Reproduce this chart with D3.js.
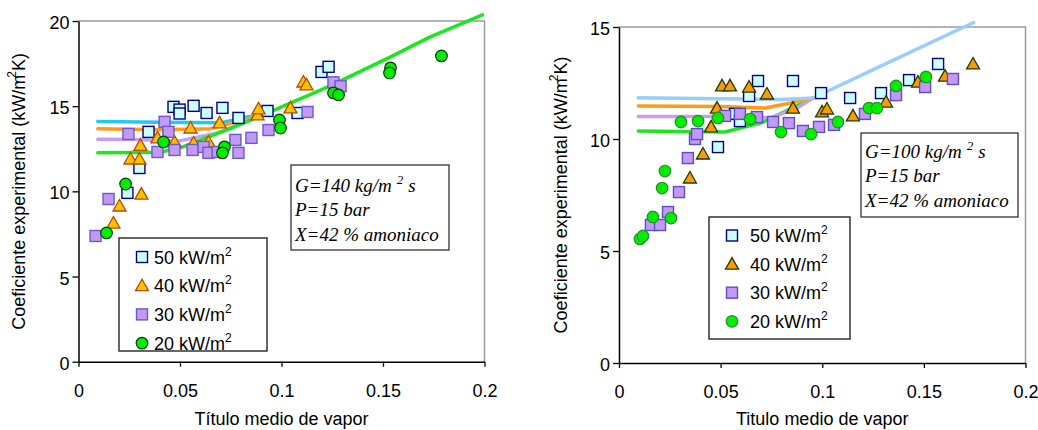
<!DOCTYPE html>
<html><head><meta charset="utf-8">
<script src="https://cdn.jsdelivr.net/npm/d3@7"></script>
<style>body{margin:0;background:#fff} svg{display:block}</style>
</head><body><svg id="c" width="1038" height="430"></svg>
<script>
// ---------- data ----------
const xTickValues = [0, 0.05, 0.1, 0.15, 0.2];
const xTickLabels = ["0", "0.05", "0.1", "0.15", "0.2"];
const yTicksG140 = [0, 5, 10, 15, 20];
const yTicksG100 = [0, 5, 10, 15];
const seriesLabels = ["50 kW/m", "40 kW/m", "30 kW/m", "20 kW/m"];
const yTitleText = "Coeficiente experimental (kW/m";
const xTitleG140 = "Título medio de vapor";
const xTitleG100 = "Titulo medio de vapor";
const notesG140 = ["G=140 kg/m", "P=15 bar", "X=42 % amoniaco"];
const notesG100 = ["G=100 kg/m", "P=15 bar", "X=42 % amoniaco"];

// G = 140 kg/m2s  (x = quality, y = coefficient kW/m2K)
const g140_q50 = [[0.0241,9.91],[0.0300,11.37],[0.0345,13.49],[0.0468,14.96],[0.0498,14.80],[0.0498,14.57],[0.0567,15.02],[0.0631,14.60],[0.0709,14.90],[0.0788,14.31],[0.0931,14.72],[0.1079,14.60],[0.1197,17.01],[0.1232,17.31]];
const g140_q40 = [[0.0172,8.14],[0.0202,9.14],[0.0256,11.90],[0.0300,11.90],[0.0305,12.70],[0.0310,9.84],[0.0389,13.14],[0.0473,12.90],[0.0552,13.72],[0.0567,12.84],[0.0640,12.90],[0.0695,14.02],[0.0882,14.49],[0.0887,14.84],[0.1044,14.90],[0.1108,16.42],[0.1123,16.25]];
const g140_q30 = [[0.0084,7.38],[0.0148,9.55],[0.0246,13.37],[0.0389,12.31],[0.0424,14.08],[0.0443,13.49],[0.0473,12.43],[0.0562,12.43],[0.0616,12.61],[0.0640,12.26],[0.0685,12.31],[0.0773,13.02],[0.0788,12.26],[0.0852,13.14],[0.0936,13.60],[0.1128,14.66],[0.1256,16.40],[0.1291,16.17]];
const g140_q20 = [[0.0138,7.56],[0.0232,10.43],[0.0419,12.90],[0.0719,12.61],[0.0709,12.26],[0.0990,14.19],[0.0995,13.72],[0.1256,15.78],[0.1281,15.66],[0.1537,17.25],[0.1532,16.95],[0.1788,17.95]];
const g140_fit50 = [[0.0095,14.10],[0.04,14.05],[0.07,14.02],[0.083,14.37],[0.091,14.49]];
const g140_fit40 = [[0.0095,13.68],[0.04,13.62],[0.065,13.68],[0.091,14.49]];
const g140_fit30 = [[0.0095,13.06],[0.03,13.05],[0.048,12.92],[0.068,13.41],[0.091,14.49]];
const g140_fit20 = [[0.0095,12.27],[0.04,12.30],[0.05,12.55],[0.075,13.70],[0.091,14.49],[0.124,16.19],[0.154,17.91],[0.173,19.05],[0.199,20.36]];

// G = 100 kg/m2s
const g100_q50 = [[0.0487,9.64],[0.0571,11.12],[0.0595,10.80],[0.0640,11.92],[0.0684,12.59],[0.0856,12.59],[0.0994,12.05],[0.1137,11.83],[0.1289,12.05],[0.1427,12.63],[0.1570,13.35]];
const g100_q40 = [[0.0349,8.26],[0.0413,9.33],[0.0453,10.54],[0.0482,11.38],[0.0507,12.37],[0.0546,12.37],[0.0640,12.32],[0.0728,12.01],[0.0856,11.38],[0.0999,11.21],[0.1023,11.34],[0.1151,11.03],[0.1314,11.65],[0.1471,12.54],[0.1604,12.81],[0.1742,13.35]];
const g100_q30 = [[0.0157,6.16],[0.0202,6.16],[0.0241,6.74],[0.0295,7.63],[0.0339,9.15],[0.0374,10.00],[0.0384,10.22],[0.0522,11.03],[0.0595,11.12],[0.0679,10.98],[0.0758,10.76],[0.0836,10.71],[0.0905,10.36],[0.0984,10.54],[0.1058,10.63],[0.1210,11.12],[0.1363,11.96],[0.1506,12.32],[0.1643,12.68]];
const g100_q20 = [[0.0103,5.54],[0.0118,5.67],[0.0167,6.52],[0.0256,6.47],[0.0212,7.81],[0.0226,8.57],[0.0305,10.76],[0.0389,10.80],[0.0487,10.94],[0.0645,10.89],[0.0797,10.31],[0.0945,10.22],[0.1077,10.76],[0.1230,11.38],[0.1269,11.38],[0.1363,12.37],[0.1510,12.77]];
const g100_fit50 = [[0.0095,11.84],[0.05,11.80],[0.08,11.76],[0.0955,11.83],[0.135,13.52],[0.1745,15.20]];
const g100_fit40 = [[0.0095,11.47],[0.05,11.45],[0.072,11.38],[0.085,11.62],[0.0955,11.83]];
const g100_fit30 = [[0.0095,11.00],[0.05,11.00],[0.075,10.95],[0.088,11.40],[0.0955,11.83]];
const g100_fit20 = [[0.0095,10.36],[0.052,10.31],[0.07,10.72],[0.0955,11.83]];

// ---------- drawing ----------
const svg = d3.select("#c");
const FONT = "'Liberation Sans', Arial, sans-serif";
const SERIF = "'Liberation Serif', 'Times New Roman', serif";

function marker(g, shape, x, y, fill, stroke) {
  if (shape === "square") {
    g.append("rect").attr("x", x - 5.5).attr("y", y - 5.5).attr("width", 11).attr("height", 11)
      .attr("fill", fill).attr("stroke", stroke).attr("stroke-width", 1.4);
  } else if (shape === "triangle") {
    g.append("path").attr("d", `M${x},${y-6.5}L${x+6.5},${y+5}L${x-6.5},${y+5}Z`)
      .attr("fill", fill).attr("stroke", stroke).attr("stroke-width", 1.3).attr("stroke-linejoin", "miter");
  } else {
    g.append("circle").attr("cx", x).attr("cy", y).attr("r", 5.8)
      .attr("fill", fill).attr("stroke", stroke).attr("stroke-width", 1.2);
  }
}

function panel(cfg) {
  const g = svg.append("g");
  const x = d3.scaleLinear().domain([0, 0.2]).range(cfg.xr);
  const y = d3.scaleLinear().domain([0, cfg.ymax]).range(cfg.yr);
  const [x0, x1] = cfg.xr, [y0, y1] = cfg.yr;

  // plot border (top/right gray)
  g.append("path").attr("d", `M${x0},${y1}H${x1}V${y0}`).attr("fill", "none")
    .attr("stroke", "#9a9a9a").attr("stroke-width", 1.5);

  // axes
  const xAxis = d3.axisBottom(x).tickValues(xTickValues).tickSize(5).tickSizeOuter(0)
    .tickFormat((d, i) => xTickLabels[i]);
  const yAxis = d3.axisLeft(y).tickValues(cfg.yticks).tickSize(6).tickSizeOuter(0).tickFormat(d3.format("d"));
  const gx = g.append("g").attr("transform", `translate(0,${y0})`).call(xAxis);
  const gy = g.append("g").attr("transform", `translate(${x0},0)`).call(yAxis);
  [gx, gy].forEach(a => {
    a.select(".domain").attr("stroke", "#000").attr("stroke-width", 1.5);
    a.selectAll(".tick line").attr("stroke", "#000").attr("stroke-width", 1.3);
    a.selectAll("text").attr("font-family", FONT).attr("font-size", 18).attr("fill", "#000");
  });
  gx.selectAll(".tick text").attr("y", 0).attr("dy", 0).attr("transform", `translate(0,35)`);
  gy.selectAll(".tick text").attr("x", -9).attr("dy", "0.42em");

  // fit lines
  const line = d3.line().x(d => x(d[0])).y(d => y(d[1]));
  cfg.fits.forEach(f => {
    g.append("path").attr("d", line(f.data)).attr("fill", "none")
      .attr("stroke", f.color).attr("stroke-width", 3.5).attr("stroke-linejoin", "round").attr("stroke-linecap", "round");
  });

  // points
  cfg.series.forEach(s => {
    s.data.forEach(d => marker(g, s.shape, x(d[0]), y(d[1]), s.fill, s.stroke));
  });

  // axis titles
  const yt = g.append("text").attr("transform", `translate(${cfg.yTitleX},${(y0 + y1) / 2}) rotate(-90)`)
    .attr("text-anchor", "middle").attr("dy", "0.35em")
    .attr("font-family", FONT).attr("font-size", 18).attr("fill", "#000");
  yt.append("tspan").text(yTitleText);
  yt.append("tspan").attr("font-size", 12).attr("dy", "-0.75em").attr("dx", -3).text("2");
  yt.append("tspan").attr("font-size", 18).attr("dy", "0.5em").text("K)");

  g.append("text").attr("x", (x0 + x1) / 2).attr("y", 425).attr("text-anchor", "middle")
    .attr("font-family", FONT).attr("font-size", 18).attr("fill", "#000").text(cfg.xTitle);

  // legend
  const L = cfg.legend;
  g.append("rect").attr("x", L.x).attr("y", L.y).attr("width", L.w).attr("height", L.h)
    .attr("fill", "#fff").attr("stroke", "#333").attr("stroke-width", 1.5);
  cfg.series.forEach((s, i) => {
    const cy = L.y + L.first + i * L.step;
    marker(g, s.shape, L.mx, cy, s.fill, s.stroke);
    const t = g.append("text").attr("x", L.tx).attr("y", cy + 6.5)
      .attr("font-family", FONT).attr("font-size", 18).attr("fill", "#000");
    t.append("tspan").text(seriesLabels[i]);
    t.append("tspan").attr("font-size", 12).attr("dy", -8).text("2");
  });

  // annotation box
  const N = cfg.note;
  g.append("rect").attr("x", N.x).attr("y", N.y).attr("width", N.w).attr("height", N.h)
    .attr("fill", "#fff").attr("stroke", "#222").attr("stroke-width", 1.2);
  cfg.notes.forEach((txt, i) => {
    const t = g.append("text").attr("x", N.x + 4).attr("y", N.y + N.first + i * 24.3)
      .attr("font-family", SERIF).attr("font-style", "italic").attr("font-size", 19).attr("fill", "#000");
    t.append("tspan").text(txt);
    if (i === 0) {
      t.append("tspan").attr("font-size", 13).attr("dx", 5).attr("dy", -8).text("2");
      t.append("tspan").attr("dx", 5).attr("dy", 8).text("s");
    }
  });
}

panel({
  xr: [78.5, 484.5], yr: [361.7, 21], ymax: 20, yticks: yTicksG140,
  xTitle: xTitleG140, yTitleX: 18.5,
  fits: [
    { data: g140_fit50, color: "#22c8f5" },
    { data: g140_fit40, color: "#ff9a1a" },
    { data: g140_fit30, color: "#c99cf5" },
    { data: g140_fit20, color: "#1ee61e" }
  ],
  series: [
    { data: g140_q50, shape: "square", fill: "#ccffff", stroke: "#000080" },
    { data: g140_q40, shape: "triangle", fill: "#ffc000", stroke: "#b34d00" },
    { data: g140_q30, shape: "square", fill: "#c399f5", stroke: "#6a5acd" },
    { data: g140_q20, shape: "circle", fill: "#00ee00", stroke: "#0a3d0a" }
  ],
  legend: { x: 119, y: 238, w: 148, h: 113, first: 19, step: 28.7, mx: 142, tx: 154 },
  note: { x: 291, y: 165, w: 158, h: 85, first: 27 },
  notes: notesG140
});

panel({
  xr: [619, 1025.5], yr: [363, 27], ymax: 15, yticks: yTicksG100,
  xTitle: xTitleG100, yTitleX: 561,
  fits: [
    { data: g100_fit20, color: "#1ee61e" },
    { data: g100_fit30, color: "#c99cf5" },
    { data: g100_fit40, color: "#ff9a1a" },
    { data: g100_fit50, color: "#99ccff" }
  ],
  series: [
    { data: g100_q50, shape: "square", fill: "#ccffff", stroke: "#000080" },
    { data: g100_q40, shape: "triangle", fill: "#ff9900", stroke: "#1e3d00" },
    { data: g100_q30, shape: "square", fill: "#c399f5", stroke: "#5a4fc8" },
    { data: g100_q20, shape: "circle", fill: "#00ee00", stroke: "#2a8a2a" }
  ],
  legend: { x: 709, y: 217, w: 141, h: 122, first: 18.5, step: 28.6, mx: 732, tx: 750 },
  note: { x: 861, y: 133, w: 157, h: 84, first: 25 },
  notes: notesG100
});
</script></body></html>
